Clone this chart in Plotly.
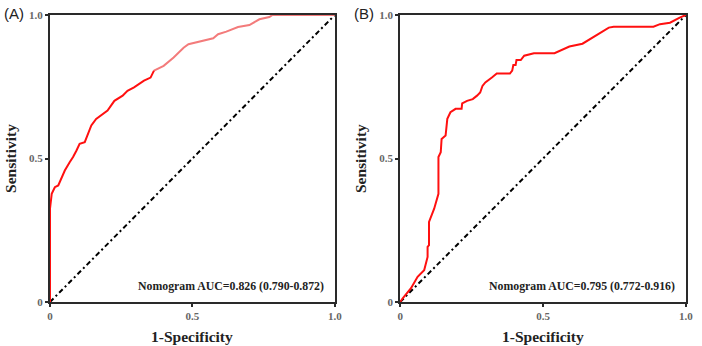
import plotly.graph_objects as go

# Panel A ROC curve
fpr_a = [0, 0, 0.006, 0.017, 0.029, 0.041, 0.052, 0.069, 0.081, 0.093, 0.104, 0.122,
         0.145, 0.162, 0.185, 0.202, 0.226, 0.255, 0.272, 0.295, 0.330, 0.353, 0.365]
tpr_a = [0, 0.325, 0.377, 0.400, 0.406, 0.435, 0.458, 0.487, 0.505, 0.528, 0.551, 0.557,
         0.615, 0.638, 0.655, 0.667, 0.701, 0.719, 0.736, 0.748, 0.771, 0.782, 0.806]
fpr_a2 = [0.365, 0.399, 0.434, 0.469, 0.486, 0.532, 0.573, 0.590, 0.619, 0.660, 0.700,
          0.735, 0.770, 0.781, 1.0]
tpr_a2 = [0.806, 0.823, 0.852, 0.886, 0.898, 0.910, 0.919, 0.933, 0.942, 0.958, 0.965,
          0.985, 0.993, 1.0, 1.0]

# Panel B ROC curve
fpr_b = [0, 0.009, 0.038, 0.061, 0.084, 0.096, 0.096, 0.101, 0.101, 0.119, 0.134, 0.134,
         0.142, 0.145, 0.159, 0.165, 0.176, 0.194, 0.215, 0.217, 0.234, 0.254, 0.269,
         0.280, 0.288, 0.298, 0.321, 0.338, 0.384, 0.392, 0.396, 0.404, 0.407, 0.422,
         0.434, 0.459, 0.468, 0.540, 0.563, 0.592, 0.638, 0.684, 0.730, 0.747, 0.886,
         0.909, 0.926, 0.944, 0.978, 1.0]
tpr_b = [0, 0.013, 0.048, 0.088, 0.111, 0.157, 0.192, 0.198, 0.279, 0.325, 0.377, 0.505,
         0.522, 0.568, 0.580, 0.638, 0.661, 0.673, 0.673, 0.692, 0.701, 0.707, 0.719,
         0.730, 0.753, 0.765, 0.782, 0.796, 0.796, 0.806, 0.826, 0.826, 0.843, 0.843,
         0.858, 0.864, 0.867, 0.867, 0.877, 0.890, 0.900, 0.927, 0.956, 0.959, 0.959,
         0.968, 0.971, 0.973, 0.991, 1.0]

diag = [0, 1]
tick_vals = [0, 0.5, 1.0]
tick_text = ["0", "0.5", "1.0"]
auc_a = "Nomogram AUC=0.826 (0.790-0.872)"
auc_b = "Nomogram AUC=0.795 (0.772-0.916)"

fig = go.Figure()
red = "#FF1010"
light = "#F37B7B"
dash = "5px,3px,2px,3px"

fig.add_trace(go.Scatter(x=diag, y=diag, mode="lines", xaxis="x", yaxis="y",
                         line=dict(color="black", width=2, dash=dash)))
fig.add_trace(go.Scatter(x=fpr_a2, y=tpr_a2, mode="lines", xaxis="x", yaxis="y",
                         line=dict(color=light, width=2)))
fig.add_trace(go.Scatter(x=fpr_a, y=tpr_a, mode="lines", xaxis="x", yaxis="y",
                         line=dict(color=red, width=2)))
fig.add_trace(go.Scatter(x=diag, y=diag, mode="lines", xaxis="x2", yaxis="y2",
                         line=dict(color="black", width=2, dash=dash)))
fig.add_trace(go.Scatter(x=fpr_b, y=tpr_b, mode="lines", xaxis="x2", yaxis="y2",
                         line=dict(color=red, width=2)))

tickfont = dict(family="Liberation Serif", size=11, color="#666666")
axis_common = dict(range=[0, 1], tickvals=tick_vals,
                   ticktext=["<b>" + t + "</b>" for t in tick_text],
                   showgrid=False, zeroline=False, showline=True, mirror=True,
                   linecolor="#2a2a2a", linewidth=2, ticks="outside", ticklen=3,
                   tickwidth=1.5, tickcolor="#2a2a2a", tickfont=tickfont)

dA = [0, 288 / 643]
dB = [354 / 643, 1]
fig.update_layout(
    width=702, height=346,
    margin=dict(l=50, r=9, t=14, b=44),
    paper_bgcolor="white", plot_bgcolor="white",
    showlegend=False,
    xaxis=dict(domain=dA, anchor="y", **axis_common),
    yaxis=dict(domain=[0, 1], anchor="x", **axis_common),
    xaxis2=dict(domain=dB, anchor="y2", **axis_common),
    yaxis2=dict(domain=[0, 1], anchor="x2", **axis_common),
)

title_font = dict(family="Liberation Serif", size=15.5, color="#222222")
ann = []
for xd, xr, yr, auc, lab, labx in [(dA, "x", "y", auc_a, "(A)", -49 / 643),
                                   (dB, "x2", "y2", auc_b, "(B)", 305 / 643)]:
    mid = (xd[0] + xd[1]) / 2
    ann.append(dict(text="<b>1-Specificity</b>", x=mid, y=-35 / 288, xref="paper", yref="paper",
                    showarrow=False, font=title_font, xanchor="center", yanchor="middle"))
    ann.append(dict(text="<b>Sensitivity</b>", x=xd[0] - 40 / 643, y=0.5, xref="paper",
                    yref="paper", showarrow=False, font=title_font, textangle=-90,
                    xanchor="center", yanchor="middle"))
    ann.append(dict(text="<b>" + auc + "</b>", x=0.968, y=0.056, xref=xr, yref=yr,
                    showarrow=False, xanchor="right", yanchor="middle",
                    font=dict(family="Liberation Serif", size=11.8, color="#222222")))
    ann.append(dict(text=lab, x=labx, y=1 + 2 / 288, xref="paper", yref="paper",
                    showarrow=False, xanchor="left", yanchor="middle",
                    font=dict(family="Liberation Sans", size=15, color="#222222")))
fig.update_layout(annotations=ann)

fig.write_html("out.html")
